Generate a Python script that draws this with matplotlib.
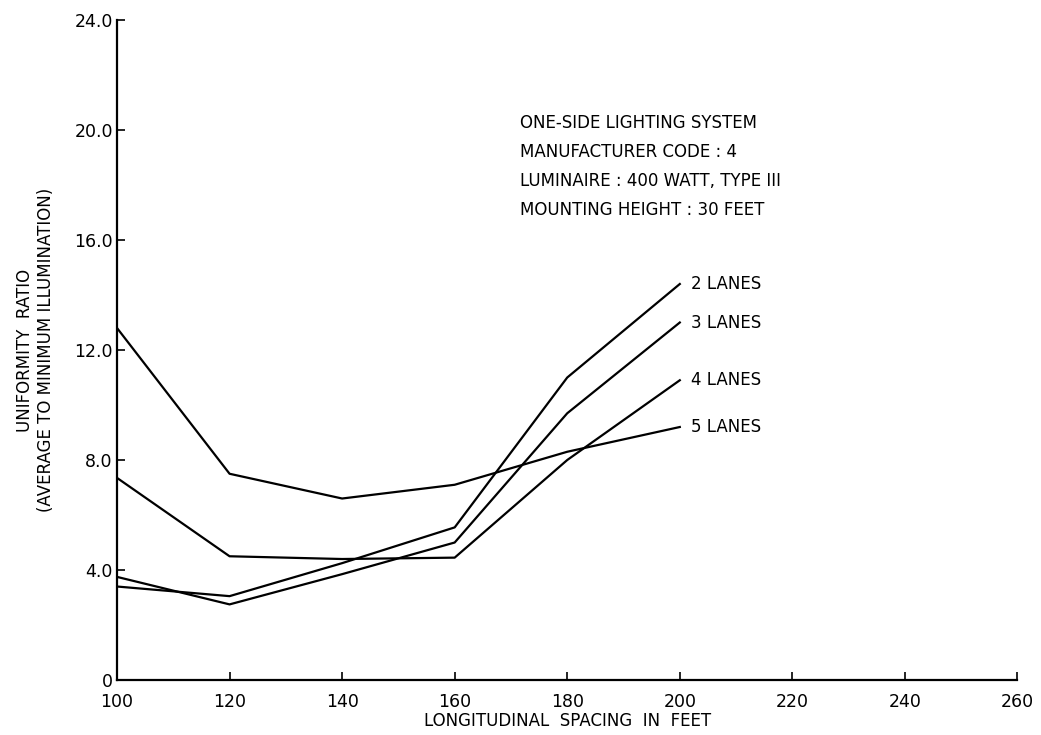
import matplotlib.pyplot as plt

# spacing (ft) and uniformity ratio per lane count
spacing = [100, 120, 140, 160, 180, 200]
lanes2 = [3.4, 3.05, 4.25, 5.55, 11.0, 14.4]
lanes3 = [3.75, 2.75, 3.85, 5.0, 9.7, 13.0]
lanes4 = [7.35, 4.5, 4.4, 4.45, 8.0, 10.9]
lanes5 = [12.8, 7.5, 6.6, 7.1, 8.3, 9.2]
series_labels = ['2 LANES', '3 LANES', '4 LANES', '5 LANES']

xticks = [100, 120, 140, 160, 180, 200, 220, 240, 260]
yticks = [0, 4, 8, 12, 16, 20, 24]
ytick_labels = ['0', '4.0', '8.0', '12.0', '16.0', '20.0', '24.0']

note = ['ONE-SIDE LIGHTING SYSTEM',
        'MANUFACTURER CODE : 4',
        'LUMINAIRE : 400 WATT, TYPE III',
        'MOUNTING HEIGHT : 30 FEET']

fig = plt.figure(figsize=(10.41, 7.35), dpi=100)
ax = fig.add_axes([0.1124, 0.0748, 0.865, 0.898])

for vals, lab in zip([lanes2, lanes3, lanes4, lanes5], series_labels):
    ax.plot(spacing, vals, color='black', linewidth=1.6)
    ax.annotate(lab, (spacing[-1], vals[-1]), xytext=(8, 0), textcoords='offset points',
                va='center', ha='left', fontsize=12)

ax.set_xlim(100, 260)
ax.set_ylim(0, 24)
ax.set_xticks(xticks)
ax.set_yticks(yticks)
ax.set_yticklabels(ytick_labels)
ax.tick_params(direction='in', length=6, width=1.2, labelsize=12.5)
ax.tick_params(axis='x', pad=9)
ax.tick_params(axis='y', pad=3)

# no top/right frame
ax.spines['top'].set_visible(False)
ax.spines['right'].set_visible(False)
for s in ['left', 'bottom']:
    ax.spines[s].set_linewidth(1.6)

ax.set_xlabel('LONGITUDINAL  SPACING  IN  FEET', fontsize=12, labelpad=1)
ax.set_ylabel('UNIFORMITY  RATIO\n(AVERAGE TO MINIMUM ILLUMINATION)', fontsize=12, labelpad=14)

for i, t in enumerate(note):
    ax.text(0.448, 0.844 - i * 0.044, t, transform=ax.transAxes, fontsize=12, va='center')

fig.savefig('out.png', dpi=100)
